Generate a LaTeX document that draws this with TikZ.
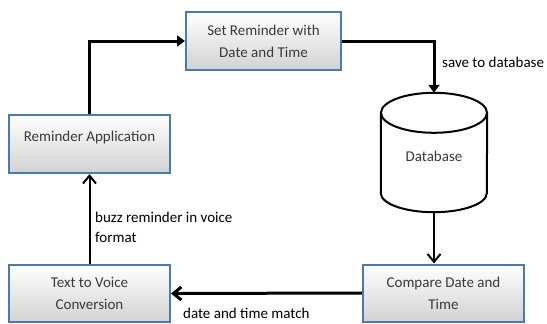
\documentclass[tikz,border=0pt]{standalone}
\usepackage{fontspec}
\setmainfont{Carlito}
\usepackage{tikz}
\usetikzlibrary{shapes.geometric,arrows.meta}

\definecolor{boxblue}{HTML}{4A7AB0}
\definecolor{boxtext}{HTML}{3A3A3A}

\tikzset{
  stepbox/.style={draw=boxblue, line width=2pt, top color=white, bottom color=gray!35,
    text=boxtext, align=center, font=\fontsize{15}{22}\selectfont,
    minimum width=161pt, minimum height=57pt, inner sep=0pt},
  lbl/.style={font=\fontsize{15}{20}\selectfont, inner sep=0pt, align=left},
  heavy/.style={line width=3pt},
  light/.style={line width=2pt},
  solidtip/.style={-{Triangle[length=8pt,width=11pt]}},
  opentip/.style={-{Straight Barb[length=8pt,width=13pt]}}
}

\begin{document}
\begin{tikzpicture}[x=1pt,y=-1pt]
  \useasboundingbox (0,0) rectangle (547,324);
  \node[stepbox, minimum width=155pt, minimum height=58pt] (set) at (263.5,41) {Set Reminder with\\Date and Time};
  \node[stepbox, minimum height=58pt, text depth=15pt] (app) at (89.5,144) {Reminder Application};
  \node[stepbox] (tts) at (89.5,293.5) {Text to Voice\\Conversion};
  \node[stepbox] (cmp) at (443.5,293) {Compare Date and\\Time};
  \node[minimum width=106pt, minimum height=119pt, inner sep=0pt] (db) at (434,152.5) {};
  \draw[light] ([yshift=-20pt]db.north) ellipse [x radius=53pt, y radius=20pt];
  \draw[light] ([yshift=-20pt]db.north west) -- ([yshift=19pt]db.south west)
    arc[start angle=180, end angle=360, x radius=53pt, y radius=19pt] -- ([yshift=-20pt]db.north east);
  \node[font=\fontsize{15}{22}\selectfont, text=boxtext] (dbtext) at (434,156) {Database};
  \node[lbl, anchor=west] (save) at (442,62) {save to database};
  \node[lbl, anchor=west] (buzz) at (95,227) {buzz reminder in voice\\format};
  \node[lbl, anchor=west] (match) at (183,313) {date and time match};
  \draw[heavy, solidtip] (app.north) |- (set.west);
  \draw[heavy, solidtip] (set.east) -| (db.north);
  \draw[light, opentip] (db.south) -- (db.south |- cmp.north);
  \draw[heavy, opentip] (cmp.west) -- (tts.east);
  \draw[light, opentip] (tts.north) -- (app.south);
\end{tikzpicture}
\end{document}
